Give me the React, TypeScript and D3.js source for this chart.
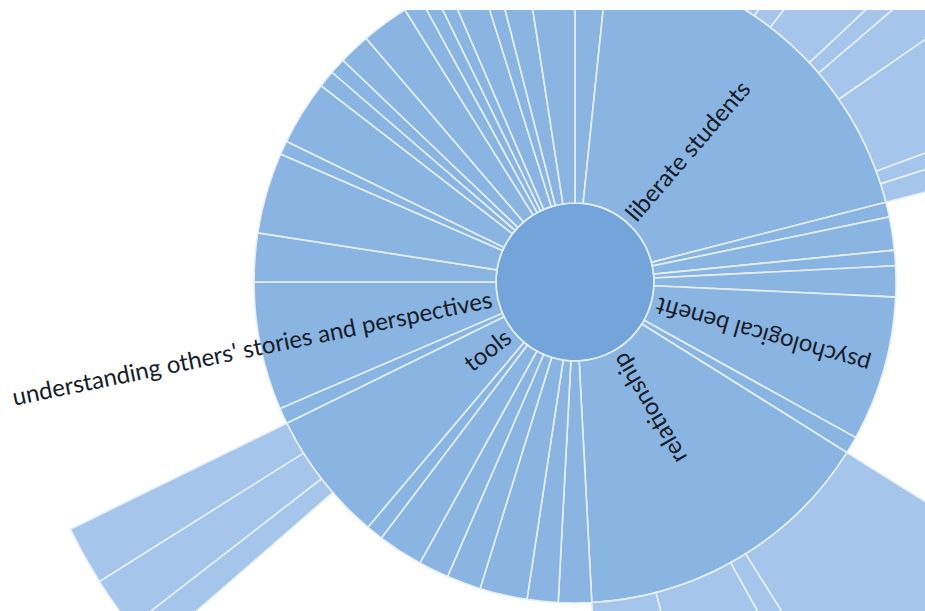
import React from "react";
import * as d3 from "d3";

const W = 925;
const H = 611;
const CX = 575;
const CY = 282;

// ring radii by depth (root circle, first ring, second ring)
const depthRadii = [0, 79, 321, 562];

// first-level categories, clockwise from 12 o'clock
const level1Names = [
  "", "liberate students", "", "", "", "", "psychological benefit", "",
  "relationship", "", "", "", "", "", "", "", "tools", "",
  "understanding others' stories and perspectives", "", "", "", "", "", "",
  "", "", "", "", "", "", "", "", "",
];
const level1Values = [
  5.9, 69.7, 2.7, 6.0, 2.8, 5.6, 26.3, 3.1, 54.9, 6.0, 5.6, 8.6, 6.2, 5.5,
  8.2, 3.1, 23.7, 2.9, 23.2, 8.8, 14.7, 2.5, 11.7, 3.1, 2.9, 5.7, 8.6, 3.4,
  2.7, 2.6, 5.9, 3.0, 5.6, 8.8,
];

// second-level children (parent = index into level1); "own" = parent's own share not covered by children
const childParents = [1, 8, 16];
const childOwnBefore = [0, 0, 8.8];
const childValues = [
  [14.1, 14.0, 3.5, 9.4, 2.5, 5.9, 14.5, 2.4, 3.4],
  [25.8, 3.1, 14.4, 11.6],
  [3.2, 5.6, 6.1],
];

const colors = ["#73a5db", "#8ab5e3", "#a5c5ea"];

type N = { name: string; value?: number; hidden?: boolean; children?: N[] };

function buildTree(): N {
  const children: N[] = level1Names.map((name, i) => {
    const ci = childParents.indexOf(i);
    if (ci < 0) return { name, value: level1Values[i] };
    const kids: N[] = [];
    if (childOwnBefore[ci] > 0) kids.push({ name: "", value: childOwnBefore[ci], hidden: true });
    childValues[ci].forEach((v) => kids.push({ name: "", value: v }));
    return { name, children: kids };
  });
  return { name: "root", children };
}

export default function App() {
  const root = d3.hierarchy<N>(buildTree()).sum((d) => (d.children ? 0 : d.value || 0));
  d3.partition<N>().size([2 * Math.PI, 3])(root);
  const nodes = root.descendants() as d3.HierarchyRectangularNode<N>[];

  const r = d3.scaleLinear().domain([0, 1, 2, 3]).range(depthRadii);
  const arc = d3
    .arc<d3.HierarchyRectangularNode<N>>()
    .startAngle((d) => d.x0)
    .endAngle((d) => d.x1)
    .innerRadius((d) => r(d.y0))
    .outerRadius((d) => r(d.y1));

  const labelled = nodes.filter((d) => d.depth === 1 && d.data.name);

  return (
    <div style={{ position: "absolute", left: 0, top: 0, width: W, height: H, background: "#fff" }}>
      <svg width={W} height={H} style={{ display: "block" }}>
        <defs>
          <clipPath id="clipArea">
            <rect x={0} y={10} width={W} height={H - 10} />
          </clipPath>
        </defs>
        <g clipPath="url(#clipArea)">
          <g transform={`translate(${CX},${CY})`}>
            {nodes
              .filter((d) => !d.data.hidden)
              .map((d, i) => (
                <path
                  key={i}
                  d={arc(d) || ""}
                  fill={colors[Math.min(d.depth, 2)]}
                  stroke="#e6f0fb"
                  strokeWidth={1.6}
                />
              ))}
            {labelled.map((d, i) => {
              const a = ((d.x0 + d.x1) / 2) * (180 / Math.PI);
              const flip = a > 90;
              const rad = r(d.y0) + 6;
              return (
                <text
                  key={"t" + i}
                  transform={`rotate(${a - 90}) translate(${rad},0) rotate(${flip ? 180 : 0})`}
                  textAnchor={flip ? "end" : "start"}
                  dy="0.35em"
                  fontFamily="Lato, 'Open Sans', sans-serif"
                  fontSize={24}
                  fill="#161c28"
                >
                  {d.data.name}
                </text>
              );
            })}
          </g>
        </g>
      </svg>
    </div>
  );
}
